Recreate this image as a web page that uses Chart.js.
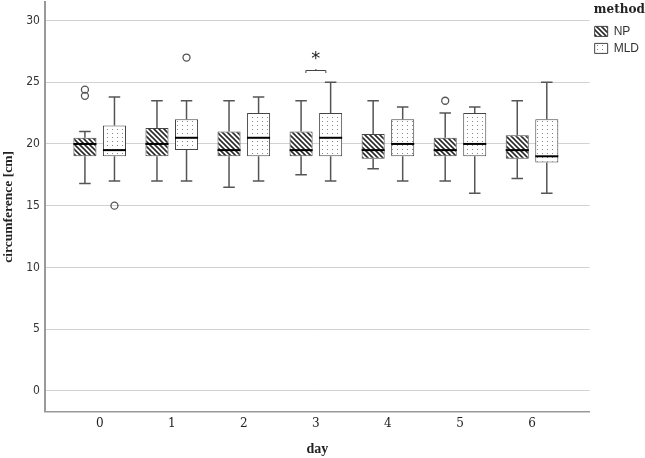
<!DOCTYPE html>
<html>
<head>
<meta charset="utf-8">
<script src="https://cdn.jsdelivr.net/npm/chart.js@4.4.0/dist/chart.umd.min.js"></script>
<style>
  html, body { margin: 0; padding: 0; background: #fff; }
  #wrap { width: 645px; height: 458px; }
</style>
</head>
<body>
<div id="wrap"><canvas id="c"></canvas></div>
<script>
// --- Datos ---
const days = [0, 1, 2, 3, 4, 5, 6];
const yTicks = [0, 5, 10, 15, 20, 25, 30];

// NP
const npMin = [16.8, 17.0, 16.5, 17.5, 18.0, 17.0, 17.2];
const npQ1  = [19.0, 19.0, 19.0, 19.0, 18.8, 19.0, 18.8];
const npMed = [20.0, 20.0, 19.5, 19.5, 19.5, 19.5, 19.5];
const npQ3  = [20.5, 21.3, 21.0, 21.0, 20.8, 20.5, 20.7];
const npMax = [21.0, 23.5, 23.5, 23.5, 23.5, 22.5, 23.5];
const npOut = [[24.4, 23.9], [], [], [], [], [23.5], []];

// MLD
const mldMin = [17.0, 17.0, 17.0, 17.0, 17.0, 16.0, 16.0];
const mldQ1  = [19.0, 19.5, 19.0, 19.0, 19.0, 19.0, 18.5];
const mldMed = [19.5, 20.5, 20.5, 20.5, 20.0, 20.0, 19.0];
const mldQ3  = [21.5, 22.0, 22.5, 22.5, 22.0, 22.5, 22.0];
const mldMax = [23.8, 23.5, 23.8, 25.0, 23.0, 23.0, 25.0];
const mldOut = [[15.0], [27.0], [], [], [], [], []];

// diferencia significativa
const sigDay = 3;
const sigLevel = 25.95;
const sigLabel = '*';

const stats = [
    { min: npMin, med: npMed, max: npMax, out: npOut },
    { min: mldMin, med: mldMed, max: mldMax, out: mldOut }
];

// --- Patrones ---
function hatchPattern() {
    const p = 5;
    const cv = document.createElement('canvas');
    cv.width = p; cv.height = p;
    const g = cv.getContext('2d');
    g.fillStyle = '#fff';
    g.fillRect(0, 0, p, p);
    g.strokeStyle = '#2a2a2a';
    g.lineWidth = 1.6;
    g.beginPath();
    g.moveTo(-1, -1); g.lineTo(p + 1, p + 1);
    g.moveTo(p - 1, -1); g.lineTo(p + 1, 1);
    g.moveTo(-1, p - 1); g.lineTo(1, p + 1);
    g.stroke();
    return g.createPattern(cv, 'repeat');
}

function dotPattern() {
    const cv = document.createElement('canvas');
    cv.width = 5; cv.height = 4;
    const g = cv.getContext('2d');
    g.fillStyle = '#fff';
    g.fillRect(0, 0, 5, 4);
    g.fillStyle = '#888';
    g.fillRect(2, 1, 1, 1);
    return g.createPattern(cv, 'repeat');
}

// --- Plugin: bigotes, medianas, atípicos ---
const boxExtras = {
    id: 'boxExtras',
    afterDatasetsDraw(chart) {
        const ctx = chart.ctx;
        const y = chart.scales.y;
        ctx.save();
        stats.forEach((s, di) => {
            const meta = chart.getDatasetMeta(di);
            meta.data.forEach((el, i) => {
                const x = el.x, w = el.width;
                const q1 = chart.data.datasets[di].data[i].y[0];
                const q3 = chart.data.datasets[di].data[i].y[1];
                ctx.strokeStyle = '#555';
                ctx.lineWidth = 1.5;
                ctx.beginPath();
                ctx.moveTo(x, y.getPixelForValue(q3));
                ctx.lineTo(x, y.getPixelForValue(s.max[i]));
                ctx.moveTo(x, y.getPixelForValue(q1));
                ctx.lineTo(x, y.getPixelForValue(s.min[i]));
                ctx.moveTo(x - w / 4, y.getPixelForValue(s.max[i]));
                ctx.lineTo(x + w / 4, y.getPixelForValue(s.max[i]));
                ctx.moveTo(x - w / 4, y.getPixelForValue(s.min[i]));
                ctx.lineTo(x + w / 4, y.getPixelForValue(s.min[i]));
                ctx.stroke();

                ctx.strokeStyle = '#000';
                ctx.lineWidth = 2;
                ctx.beginPath();
                ctx.moveTo(x - w / 2, y.getPixelForValue(s.med[i]));
                ctx.lineTo(x + w / 2, y.getPixelForValue(s.med[i]));
                ctx.stroke();

                ctx.strokeStyle = '#555';
                ctx.lineWidth = 1.3;
                s.out[i].forEach(v => {
                    ctx.beginPath();
                    ctx.arc(x, y.getPixelForValue(v), 3.5, 0, Math.PI * 2);
                    ctx.stroke();
                });
            });
        });

        // corchete + asterisco
        const cx = chart.scales.x.getPixelForValue(sigDay);
        const by = y.getPixelForValue(sigLevel);
        ctx.strokeStyle = '#444';
        ctx.lineWidth = 1;
        ctx.beginPath();
        ctx.moveTo(cx - 10, by + 2.5);
        ctx.lineTo(cx - 10, by);
        ctx.lineTo(cx + 10, by);
        ctx.lineTo(cx + 10, by + 2.5);
        ctx.moveTo(cx, by);
        ctx.lineTo(cx, by - 1.5);
        ctx.stroke();
        ctx.fillStyle = '#222';
        ctx.font = '18px "DejaVu Sans"';
        ctx.textAlign = 'center';
        ctx.textBaseline = 'middle';
        ctx.fillText(sigLabel, cx, by - 11);
        ctx.restore();
    }
};

const ctx = document.getElementById('c').getContext('2d');
new Chart(ctx, {
    type: 'bar',
    data: {
        datasets: [
            {
                label: 'NP',
                data: days.map((d, i) => ({ x: d, y: [npQ1[i], npQ3[i]] })),
                backgroundColor: hatchPattern(),
                borderColor: '#444',
                borderWidth: 1,
                borderSkipped: false
            },
            {
                label: 'MLD',
                data: days.map((d, i) => ({ x: d, y: [mldQ1[i], mldQ3[i]] })),
                backgroundColor: dotPattern(),
                borderColor: '#444',
                borderWidth: 1,
                borderSkipped: false
            }
        ]
    },
    options: {
        responsive: true,
        maintainAspectRatio: false,
        animation: false,
        categoryPercentage: 0.82,
        barPercentage: 0.78,
        layout: { padding: { top: 2, right: -4, bottom: 0, left: 0 } },
        scales: {
            x: {
                type: 'linear',
                offset: false,
                min: -0.76,
                max: 6.8,
                afterBuildTicks: (s) => { s.ticks = days.map(v => ({ value: v })); },
                grid: { display: false, drawTicks: false },
                border: { color: '#999', width: 1.5 },
                ticks: { color: '#222', padding: 5, font: { family: 'DejaVu Serif', size: 12 } },
                title: { display: true, text: 'day', color: '#222', padding: { top: 5, bottom: 0 },
                         font: { family: 'Liberation Serif', size: 14, weight: 'bold' } }
            },
            y: {
                min: -1.7,
                max: 31.5,
                afterBuildTicks: (s) => { s.ticks = yTicks.map(v => ({ value: v })); },
                afterFit: (s) => { s.paddingTop = 0; s.paddingBottom = 0; },
                grid: { color: '#d2d2d2', lineWidth: 1, drawTicks: false },
                border: { color: '#999', width: 2 },
                ticks: { color: '#333', padding: 5, font: { family: 'DejaVu Sans Condensed', size: 12 } },
                title: { display: true, text: 'circumference [cm]', color: '#222', padding: { top: 0, bottom: 5 },
                         font: { family: 'Liberation Serif', size: 13.5, weight: 'bold' } }
            }
        },
        plugins: {
            tooltip: { enabled: false },
            legend: {
                position: 'right',
                align: 'start',
                title: { display: true, text: 'method', color: '#222', padding: 2,
                         font: { family: 'DejaVu Serif', size: 12, weight: 'bold' } },
                labels: { boxWidth: 13, boxHeight: 10, padding: 5, color: '#333',
                          font: { family: 'Liberation Sans', size: 12 } }
            }
        }
    },
    plugins: [boxExtras]
});
</script>
</body>
</html>
